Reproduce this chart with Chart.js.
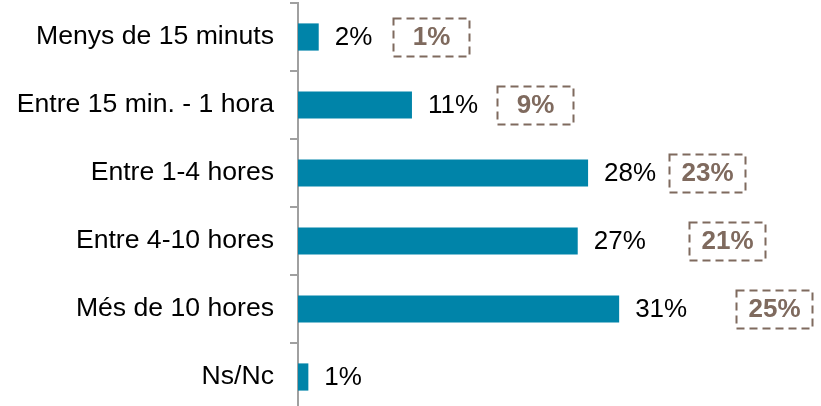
<!DOCTYPE html>
<html>
<head>
<meta charset="utf-8">
<script src="https://cdn.jsdelivr.net/npm/chart.js@4"></script>
<style>
	html, body { margin: 0; padding: 0; background: #fff; }
	#wrap { width: 821px; height: 406px; overflow: hidden; }
</style>
</head>
<body>
<div id="wrap"><canvas id="chart" width="821" height="412"></canvas></div>
<script>
'use strict'

const categories = ['Menys de 15 minuts', 'Entre 15 min. - 1 hora', 'Entre 1-4 hores', 'Entre 4-10 hores', 'Més de 10 hores', 'Ns/Nc'];
const values = [2, 11, 28, 27, 31, 1];
const prevValues = [1, 9, 23, 21, 25, null];

const colors = {
	bar: '#0084A9',
	axis: '#A0A0A0',
	text: '#000',
	box: '#7F6A5E',
};

const font = 'Liberation Sans, Arial, sans-serif';

// draws the "xx%" next to each bar and the dashed box with the earlier figure
const labelsPlugin = {
	id: 'barLabels',
	afterDatasetsDraw(chart, args, opts) {
		const ctx = chart.ctx;
		const meta = chart.getDatasetMeta(0);
		ctx.save();
		meta.data.forEach((bar, i) => {
			ctx.font = '26px ' + font;
			ctx.fillStyle = colors.text;
			ctx.textAlign = 'left';
			ctx.textBaseline = 'middle';
			let txt = values[i] + '%';
			let tx = bar.x + 16;
			ctx.fillText(txt, tx, bar.y + 1);
			let endX = tx + ctx.measureText(txt).width;

			if (prevValues[i] == null) return;
			let w = 76, h = 38;
			let bx = Math.round(endX + opts.gaps[i]) + 0.5;
			let by = Math.round(bar.y - h / 2) + 0.5;
			ctx.setLineDash([8, 5]);
			ctx.lineWidth = 2;
			ctx.strokeStyle = colors.box;
			ctx.strokeRect(bx, by, w, h);
			ctx.setLineDash([]);
			ctx.font = 'bold 26px ' + font;
			ctx.fillStyle = colors.box;
			ctx.textAlign = 'center';
			ctx.fillText(prevValues[i] + '%', bx + w / 2, bar.y + 1);
		});
		ctx.restore();
	}
};

new Chart(document.getElementById('chart'), {
	type: 'bar',
	data: {
		labels: categories,
		datasets: [{
			data: values,
			backgroundColor: colors.bar,
			borderWidth: 0,
			barPercentage: 0.4,
			categoryPercentage: 1,
		}],
	},
	plugins: [labelsPlugin],
	options: {
		indexAxis: 'y',
		responsive: false,
		animation: false,
		layout: {
			padding: { top: 3, bottom: 1, left: 0, right: 5 },
		},
		plugins: {
			legend: { display: false },
			tooltip: { enabled: false },
			barLabels: {
				gaps: [21, 19, 13, 43, 49],
			},
		},
		scales: {
			x: {
				display: false,
				min: 0,
				max: 50,
			},
			y: {
				grid: {
					offset: true,
					drawOnChartArea: false,
					tickLength: 8,
					lineWidth: 2,
					color: colors.axis,
				},
				border: {
					color: colors.axis,
					width: 2,
				},
				ticks: {
					color: colors.text,
					padding: 16,
					font: { family: font, size: 26.6 },
				},
				afterFit(scale) {
					scale.width = 298;
					scale.paddingTop = 0;
					scale.paddingBottom = 0;
				},
			},
		},
	},
});
</script>
</body>
</html>
